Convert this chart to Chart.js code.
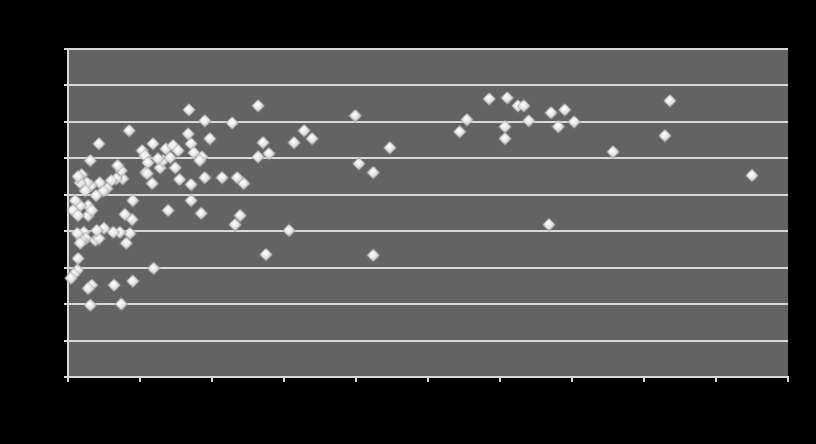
<!DOCTYPE html>
<html>
<head>
<meta charset="utf-8">
<script src="https://cdn.jsdelivr.net/npm/chart.js@4.4.0/dist/chart.umd.min.js"></script>
<style>
  html, body { margin: 0; padding: 0; background: #000; }
  #wrap { width: 816px; height: 444px; }
</style>
</head>
<body>
<div id="wrap"><canvas id="scatterChart" width="816" height="444"></canvas></div>
<script>
// values (x 0-100, y 0-90)
var xValues = [16.8, 26.4, 19.0, 22.8, 39.9, 32.8, 31.4, 33.9, 27.1, 27.9, 26.4, 44.7, 40.4, 42.4, 24.4, 23.5,
    23.9, 23.2, 30.7, 27.5, 42.4, 11.9, 54.4, 55.4, 58.5, 61.0, 62.5, 63.3, 60.7, 60.7, 64.0, 67.1, 69.0, 68.1,
    70.3, 66.8, 75.7, 82.9, 83.6, 95.0, 8.5, 4.3, 11.8, 10.3, 3.1, 13.6, 14.6, 15.3, 16.7, 17.1, 17.5, 18.6,
    18.3, 19.7, 19.0, 17.1, 17.1, 18.5, 21.4, 13.9, 10.7, 11.1, 10.8, 11.7, 12.8, 13.2, 14.2, 14.9, 12.5, 9.0,
    8.9, 7.9, 8.6, 8.1, 7.2, 6.3, 7.6, 7.4, 6.9, 6.7, 6.0, 5.4, 4.9, 4.4, 3.9, 3.2, 2.6, 1.9, 1.7, 1.4, 2.4,
    2.8, 2.8, 3.3, 1.7, 1.0, 0.7, 1.4, 2.2, 2.5, 3.8, 4.3, 1.9, 1.3, 1.7, 5.0, 4.0, 1.4, 1.3, 0.8, 0.4, 3.3,
    2.8, 6.4, 9.0, 3.1, 7.4, 11.0, 15.5];
var yValues = [73.3, 74.4, 70.3, 69.7, 71.7, 67.6, 64.3, 65.4, 64.3, 61.3, 60.4, 62.9, 58.5, 56.1, 53.1, 54.7,
    44.3, 41.8, 40.2, 33.6, 33.4, 29.8, 67.3, 70.6, 76.3, 76.6, 74.4, 74.4, 68.7, 65.4, 70.3, 72.5, 73.3, 68.7,
    70.0, 41.8, 61.8, 66.2, 75.8, 55.3, 67.6, 64.0, 64.0, 62.1, 59.4, 62.6, 63.5, 62.1, 66.7, 64.0, 61.5, 60.4,
    59.4, 65.4, 54.7, 52.8, 48.4, 44.9, 54.7, 45.7, 60.7, 58.8, 56.1, 53.1, 57.4, 59.4, 60.2, 57.4, 59.9, 48.4,
    43.2, 44.6, 39.4, 36.7, 39.7, 39.7, 54.4, 56.6, 58.0, 54.4, 53.9, 51.7, 51.1, 53.3, 49.8, 52.5, 53.3, 55.5,
    53.3, 55.0, 51.1, 47.0, 44.3, 45.7, 47.0, 48.4, 45.7, 44.3, 39.7, 38.0, 37.5, 38.0, 37.5, 39.4, 36.7, 40.8,
    40.2, 32.5, 29.3, 28.2, 27.1, 25.2, 24.3, 25.2, 26.3, 19.7, 20.0, 55.8, 54.2];

var xTicks = [0, 10, 20, 30, 40, 50, 60, 70, 80, 90, 100];
var yTicks = [0, 10, 20, 30, 40, 50, 60, 70, 80, 90];

// shaded diamond marker, a bit like the embossed office style
function makeDiamond(size) {
    var c = document.createElement('canvas');
    c.width = size;
    c.height = size;
    var g = c.getContext('2d');
    var h = size / 2;
    g.beginPath();
    g.moveTo(h, 0.5);
    g.lineTo(size - 0.5, h);
    g.lineTo(h, size - 0.5);
    g.lineTo(0.5, h);
    g.closePath();
    var grad = g.createRadialGradient(h - 1, h - 1.5, 0.5, h, h, h);
    grad.addColorStop(0, '#ffffff');
    grad.addColorStop(0.5, '#e4e4e4');
    grad.addColorStop(1, '#a8a8a8');
    g.fillStyle = grad;
    g.fill();
    g.strokeStyle = 'rgba(140,140,140,0.7)';
    g.lineWidth = 0.8;
    g.stroke();
    return c;
}

var points = xValues.map(function(x, i) { return { x: x, y: yValues[i] }; });

var plotBg = {
    id: 'plotBg',
    beforeDraw: function(chart) {
        var ctx = chart.ctx;
        var a = chart.chartArea;
        ctx.save();
        ctx.fillStyle = '#000000';
        ctx.fillRect(0, 0, chart.width, chart.height);
        ctx.fillStyle = '#636363';
        ctx.fillRect(a.left, a.top, a.right - a.left, a.bottom - a.top);
        ctx.restore();
    }
};

var ctx = document.getElementById('scatterChart').getContext('2d');
var scatterChart = new Chart(ctx, {
    type: 'scatter',
    data: {
        datasets: [{
            data: points,
            pointStyle: makeDiamond(14),
            pointRadius: 7,
            clip: false
        }]
    },
    options: {
        responsive: false,
        animation: false,
        events: [],
        layout: { padding: { left: 64, right: 28, top: 49, bottom: 62 } },
        plugins: { legend: { display: false }, tooltip: { enabled: false } },
        scales: {
            x: {
                type: 'linear',
                min: 0,
                max: 100,
                afterBuildTicks: function(axis) { axis.ticks = xTicks.map(function(v) { return { value: v }; }); },
                ticks: { display: false },
                grid: { drawOnChartArea: false, color: '#d9d9d9', lineWidth: 2, tickLength: 5 },
                border: { color: '#d9d9d9', width: 2 }
            },
            y: {
                type: 'linear',
                min: 0,
                max: 90,
                afterBuildTicks: function(axis) { axis.ticks = yTicks.map(function(v) { return { value: v }; }); },
                ticks: { display: false },
                grid: { color: '#d9d9d9', lineWidth: 2, tickLength: 4 },
                border: { color: '#d9d9d9', width: 2 }
            }
        }
    },
    plugins: [plotBg]
});
</script>
</body>
</html>
